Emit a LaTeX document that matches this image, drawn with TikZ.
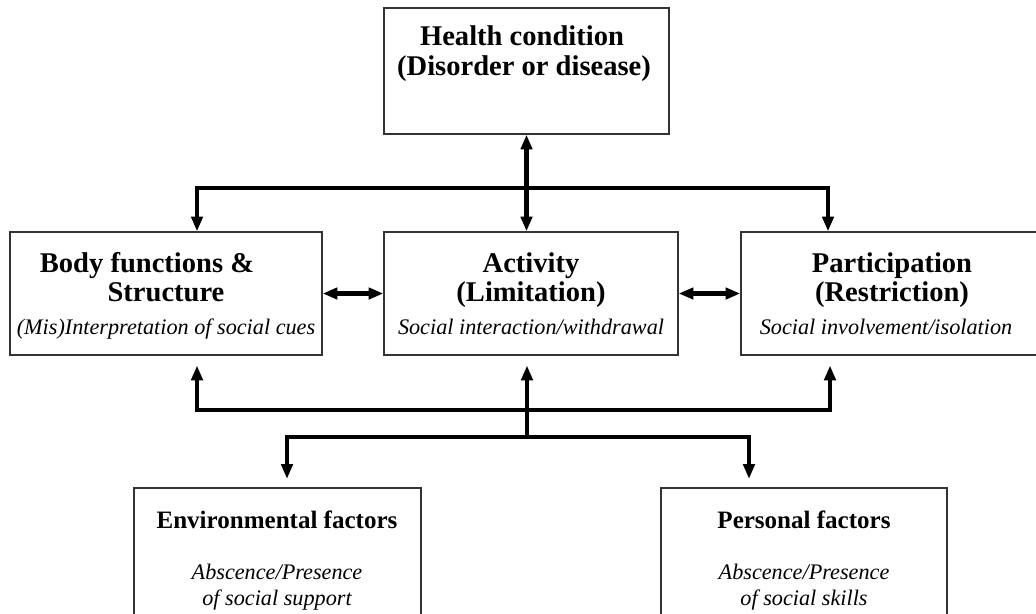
\documentclass[tikz,border=0pt]{standalone}
\usepackage{fontspec}
\setmainfont{Liberation Serif}
\usetikzlibrary{arrows.meta,calc}

\begin{document}
\begin{tikzpicture}[x=0.025cm,y=-0.025cm,>={Triangle[length=10.5pt,width=8pt]},
  box/.style={draw=black!80,line width=0.9pt,minimum height=3.075cm,inner sep=0pt},
  link/.style={line width=3pt},
  head/.style={font=\fontsize{20.3}{24}\selectfont\bfseries,anchor=base,inner sep=0pt},
  headsm/.style={font=\fontsize{17.8}{21}\selectfont\bfseries,anchor=base,inner sep=0pt},
  note/.style={font=\fontsize{15.8}{20}\selectfont\itshape,anchor=base,inner sep=0pt}]
  \path[use as bounding box,clip] (0,0) rectangle (1036,613);

  % boxes
  \node[box,minimum width=7.125cm,minimum height=3.15cm] (health) at (526.5,71) {};
  \node[box,minimum width=7.8cm] (body) at (166,293.5) {};
  \node[box,minimum width=7.35cm] (activity) at (531,293.5) {};
  \node[box,minimum width=7.8cm] (part) at (897,293.5) {};
  \node[box,minimum width=7.175cm,minimum height=3.3cm] (env) at (277.5,554) {};
  \node[box,minimum width=7.15cm,minimum height=3.3cm] (pers) at (804,554) {};

  % texts
  \node[head] (healthA) at (522,45) {Health condition};
  \node[head] (healthB) at (524,75) {(Disorder or disease)};
  \node[head] (bodyA) at (147,272) {Body functions \&};
  \node[head] (bodyB) at (166,301) {Structure};
  \node[note] (bodyC) at (166,334) {(Mis)Interpretation of social cues};
  \node[head] (actA) at (531,272) {Activity};
  \node[head] (actB) at (531,301) {(Limitation)};
  \node[note] (actC) at (531,334) {Social interaction/withdrawal};
  \node[head] (partA) at (892,272) {Participation};
  \node[head] (partB) at (892,301) {(Restriction)};
  \node[note] (partC) at (886,334) {Social involvement/isolation};
  \node[headsm] (envA) at (277,528) {Environmental factors};
  \node[note] (envB) at (277,579) {Abscence/Presence};
  \node[note] (envC) at (277,605) {of social support};
  \node[headsm] (persA) at (804,528) {Personal factors};
  \node[note] (persB) at (804,579) {Abscence/Presence};
  \node[note] (persC) at (804,605) {of social skills};

  % connectors
  \coordinate (tl) at (197,188);
  \coordinate (tr) at (828,188);
  \coordinate (bl) at (197,410);
  \coordinate (br) at (830,410);
  \coordinate (bm) at (527,437);
  \coordinate (el) at (287,437);
  \coordinate (er) at (749,437);
  \draw[link,<->] (health.south) -- (health.south |- activity.north);
  \draw[link,<->] (tl |- body.north) -- (tl) -- (tr) -- (tr |- part.north);
  \draw[link,<->] (body.east) -- (activity.west);
  \draw[link,<->] (activity.east) -- (part.west);
  \draw[link,<->,shorten <=7pt,shorten >=7pt] (bl |- body.south) -- (bl) -- (br) -- (br |- part.south);
  \draw[link,->,shorten >=7pt] (bm) -- (bm |- activity.south);
  \draw[link,<->,shorten <=6pt,shorten >=6pt] (el |- env.north) -- (el) -- (er) -- (er |- pers.north);
\end{tikzpicture}
\end{document}
